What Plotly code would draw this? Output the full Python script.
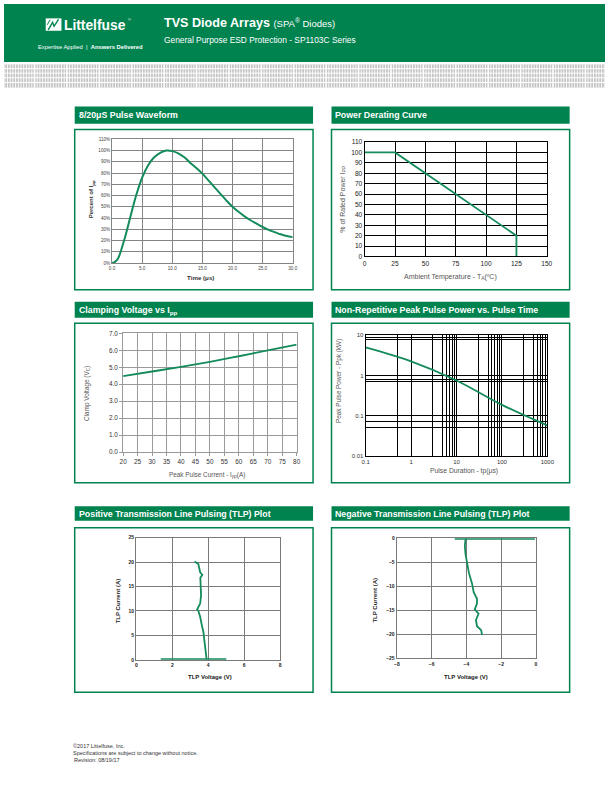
import plotly.graph_objects as go

W, H = 612, 792
GREEN = "#00834f"
LINE = "#148b5b"
SANS = "Liberation Sans, Arial, sans-serif"
NARROW = "Liberation Sans Narrow, Arial Narrow, Liberation Sans, Arial, sans-serif"

# ---------------- data ----------------
pulse_time = [0, 0.5, 1, 2, 3, 4, 5, 6, 7, 8, 9, 10, 11, 12, 13, 14, 15, 16, 17, 18,
              19, 20, 21, 22, 23, 24, 25, 26, 27, 28, 29, 30]
pulse_pct = [0, 1, 4, 20, 40, 60, 76, 87, 94, 98, 100, 99.5, 97.5, 94, 89, 84.5, 79.5,
             73.5, 67.5, 61.5, 55.5, 50, 45.5, 41.5, 38, 35, 32, 29.5, 27.5, 25.5, 24, 23]
pulse_xticks = [0, 5, 10, 15, 20, 25, 30]
pulse_xlabels = ["0.0", "5.0", "10.0", "15.0", "20.0", "25.0", "30.0"]
pulse_yticks = list(range(0, 111, 10))
pulse_ylabels = [f"{v}%" for v in pulse_yticks]

derate_temp = [0, 25, 125, 125]
derate_pct = [100, 100, 20, 0]
derate_xticks = [0, 25, 50, 75, 100, 125, 150]
derate_yticks = list(range(0, 111, 10))

clamp_ipp = [20, 30, 40, 50, 60, 70, 80]
clamp_vc = [4.48, 4.75, 5.02, 5.32, 5.65, 6.0, 6.34]
clamp_xticks = list(range(20, 81, 5))
clamp_yticks = [0, 1, 2, 3, 4, 5, 6, 7]
clamp_ylabels = ["0.0", "1.0", "2.0", "3.0", "4.0", "5.0", "6.0", "7.0"]

ppk_tp = [0.1, 1, 10, 100, 1000]
ppk_kw = [5.0, 2.25, 0.75, 0.185, 0.057]
ppk_xticks = [0.1, 1, 10, 100, 1000]
ppk_xlabels = ["0.1", "1", "10", "100", "1000"]
ppk_xminor = [0.5, 3, 5, 6, 7, 8, 9, 30, 50, 60, 70, 80, 90, 300, 500, 600, 700, 800, 900]
ppk_yticks = [0.01, 0.1, 1, 10]
ppk_ylabels = ["0.01", "0.1", "1", "10"]
ppk_yminor = [0.05, 0.07, 0.7, 0.8, 8, 9]

tlp_pos_v = [3.24, 3.45, 3.55, 3.67, 3.56, 3.58, 3.6, 3.55, 3.42, 3.38, 3.45, 3.55, 3.64,
             3.73, 3.78, 3.82, 3.87, 3.91]
tlp_pos_i = [20.1, 19.6, 17.9, 17.4, 16.8, 15.5, 13.2, 11.5, 10.7, 10.3, 10.0, 8.8, 7.1,
             5.7, 4.1, 2.7, 1.0, 0.1]
tlp_pos_base_v = [1.36, 5.0]
tlp_pos_base_i = [0.12, 0.12]
tlp_pos_xticks = [0, 2, 4, 6, 8]
tlp_pos_yticks = [0, 5, 10, 15, 20, 25]

tlp_neg_v = [-4.05, -4.09, -4.05, -3.95, -3.86, -3.67, -3.58, -3.39, -3.39, -3.52, -3.3,
             -3.45, -3.39, -3.15, -3.1]
tlp_neg_i = [-0.2, -1.6, -3.3, -5.4, -7.1, -9.5, -11.2, -12.6, -13.6, -14.8, -15.7, -17,
             -18.3, -19.1, -20.1]
tlp_neg_base_v = [-4.67, -0.06]
tlp_neg_base_i = [-0.12, -0.12]
tlp_neg_xticks = [-8, -6, -4, -2, 0]
tlp_neg_yticks = [0, -5, -10, -15, -20, -25]


def fx(x):
    return x / W


def fy(y):
    return 1 - y / H


fig = go.Figure()

# panel plot areas (px): left, right, top, bottom
P = {
    1: (110, 294, 136.5, 261.3),
    2: (367.3, 552.7, 139.3, 254.7),
    3: (121.3, 298, 332.3, 452),
    4: (368.3, 553.3, 334.3, 455.7),
    5: (134.7, 281.3, 538.3, 661.7),
    6: (400, 541.7, 539, 660.3),
}


def dom(k):
    l, r, t, b = P[k]
    return [fx(l), fx(r)], [fy(b), fy(t)]


# ---------------- traces ----------------
fig.add_trace(go.Scatter(x=pulse_time, y=pulse_pct, mode="lines", line=dict(color=LINE, width=2, shape="spline"),
                         xaxis="x", yaxis="y", hoverinfo="skip"))
fig.add_trace(go.Scatter(x=derate_temp, y=derate_pct, mode="lines", line=dict(color=LINE, width=1.8),
                         xaxis="x2", yaxis="y2", hoverinfo="skip"))
fig.add_trace(go.Scatter(x=clamp_ipp, y=clamp_vc, mode="lines", line=dict(color=LINE, width=1.8, shape="spline"),
                         xaxis="x3", yaxis="y3", hoverinfo="skip"))
fig.add_trace(go.Scatter(x=ppk_tp, y=ppk_kw, mode="lines", line=dict(color=LINE, width=1.8, shape="spline"),
                         xaxis="x4", yaxis="y4", hoverinfo="skip"))
fig.add_trace(go.Scatter(x=tlp_pos_base_v, y=tlp_pos_base_i, mode="lines", line=dict(color=LINE, width=1.8),
                         xaxis="x5", yaxis="y5", hoverinfo="skip"))
fig.add_trace(go.Scatter(x=tlp_pos_v, y=tlp_pos_i, mode="lines", line=dict(color=LINE, width=1.8),
                         xaxis="x5", yaxis="y5", hoverinfo="skip"))
fig.add_trace(go.Scatter(x=tlp_neg_base_v, y=tlp_neg_base_i, mode="lines", line=dict(color=LINE, width=1.8),
                         xaxis="x6", yaxis="y6", hoverinfo="skip"))
fig.add_trace(go.Scatter(x=tlp_neg_v, y=tlp_neg_i, mode="lines", line=dict(color=LINE, width=1.8),
                         xaxis="x6", yaxis="y6", hoverinfo="skip"))

# ---------------- axes ----------------
def axis(k, letter, **kw):
    xd, yd = dom(k)
    base = dict(showgrid=True, zeroline=False, showline=True, mirror=True, fixedrange=True,
                anchor=("y" if letter == "x" else "x") + ("" if k == 1 else str(k)),
                domain=xd if letter == "x" else yd)
    base.update(kw)
    return base


g1 = dict(gridcolor="#858585", gridwidth=1, linecolor="#858585", linewidth=1, ticks="",
          tickfont=dict(size=4.6, color="#444", family=SANS))
g2 = dict(gridcolor="#000", gridwidth=1, linecolor="#000", linewidth=1.3, ticks="",
          tickfont=dict(size=6.6, color="#222", family=SANS))
g3 = dict(gridcolor="#9a9a9a", gridwidth=1, linecolor="#9a9a9a", linewidth=1, ticks="outside",
          ticklen=3, tickcolor="#9a9a9a", tickfont=dict(size=6.4, color="#333", family=SANS))
g4 = dict(gridcolor="#000", gridwidth=1, linecolor="#000", linewidth=1, ticks="",
          tickfont=dict(size=6.0, color="#333", family=SANS))
g5 = dict(gridcolor="#7a7a7a", gridwidth=1.3, linecolor="#7a7a7a", linewidth=1.3, ticks="",
          tickfont=dict(size=5.0, color="#222", family=SANS, weight="bold"))

lay = {}
lay["xaxis"] = axis(1, "x", range=[0, 30], tickmode="array", tickvals=pulse_xticks, ticktext=pulse_xlabels, **g1)
lay["yaxis"] = axis(1, "y", range=[0, 110], tickmode="array", tickvals=pulse_yticks, ticktext=pulse_ylabels, **g1)
lay["xaxis2"] = axis(2, "x", range=[0, 150], tickmode="array", tickvals=derate_xticks, **g2)
lay["yaxis2"] = axis(2, "y", range=[0, 110], tickmode="array", tickvals=derate_yticks, **g2)
lay["xaxis3"] = axis(3, "x", range=[20, 80], tickmode="array", tickvals=clamp_xticks, **g3)
lay["yaxis3"] = axis(3, "y", range=[0, 7], tickmode="array", tickvals=clamp_yticks, ticktext=clamp_ylabels, **g3)
lay["xaxis4"] = axis(4, "x", type="log", range=[-1, 3], tickmode="array", tickvals=ppk_xticks, ticktext=ppk_xlabels,
                     minor=dict(tickmode="array", tickvals=ppk_xminor, showgrid=True, gridcolor="#000", gridwidth=1, ticks=""), **g4)
lay["yaxis4"] = axis(4, "y", type="log", range=[-2, 1], tickmode="array", tickvals=ppk_yticks, ticktext=ppk_ylabels,
                     minor=dict(tickmode="array", tickvals=ppk_yminor, showgrid=True, gridcolor="#000", gridwidth=1, ticks=""), **g4)
lay["xaxis5"] = axis(5, "x", range=[0, 8], tickmode="array", tickvals=tlp_pos_xticks, **g5)
lay["yaxis5"] = axis(5, "y", range=[0, 25], tickmode="array", tickvals=tlp_pos_yticks, **g5)
lay["xaxis6"] = axis(6, "x", range=[-8, 0], tickmode="array", tickvals=tlp_neg_xticks, **g5)
lay["yaxis6"] = axis(6, "y", range=[-25, 0], tickmode="array", tickvals=tlp_neg_yticks, **g5)

# ---------------- shapes ----------------
shapes = []


def rect(x0, y0, x1, y1, fill=None, line=None, lw=0, layer="below"):
    shapes.append(dict(type="rect", xref="paper", yref="paper", x0=fx(x0), x1=fx(x1), y0=fy(y1), y1=fy(y0),
                       fillcolor=fill if fill else "rgba(0,0,0,0)",
                       line=dict(color=line if line else "rgba(0,0,0,0)", width=lw), layer=layer))


def hline(x0, x1, y, color, w):
    shapes.append(dict(type="line", xref="paper", yref="paper", x0=fx(x0), x1=fx(x1), y0=fy(y), y1=fy(y),
                       line=dict(color=color, width=w), layer="below"))


def vline(x, y0, y1, color, w):
    shapes.append(dict(type="line", xref="paper", yref="paper", x0=fx(x), x1=fx(x), y0=fy(y0), y1=fy(y1),
                       line=dict(color=color, width=w), layer="below"))


# header
rect(0, 0, W, 58.5, fill=GREEN)
# textured band
rect(0, 61, W, 84.3, fill="#c4c4c4")
for yy in [65.2, 69.8, 74.4, 79.2]:
    hline(0, W, yy, "white", 1)
xx = 0.8
i = 0
while xx < W:
    vline(xx, 61, 84.3, "white", 1.6 if i % 12 == 11 else 0.9)
    xx += 2.75
    i += 1

# logo icon
rect(42.5, 14.5, 58.5, 27, fill="white")
shapes.append(dict(type="path", xref="paper", yref="paper",
                   path=f"M {fx(45)},{fy(26)} L {fx(49.5)},{fy(18.5)} L {fx(51)},{fy(22.5)} L {fx(55.5)},{fy(15.5)}",
                   line=dict(color=GREEN, width=1.4), layer="above"))
shapes.append(dict(type="path", xref="paper", yref="paper",
                   path=f"M {fx(44)},{fy(21)} L {fx(47)},{fy(16)}",
                   line=dict(color=GREEN, width=1.0), layer="above"))

# panels: title bars and boxes
panels = [
    (72, 314.7, 103.3, 120.7, 126.7, 288.3, "8/20μS Pulse Waveform"),
    (333.5, 576, 103.3, 120.7, 126.7, 288.3, "Power Derating Curve"),
    (72, 314.7, 300.5, 316.5, 322, 483, "Clamping Voltage vs I<sub>pp</sub>"),
    (333.5, 576, 300.5, 316.5, 322, 483, "Non-Repetitive Peak Pulse Power vs. Pulse Time"),
    (72, 314.7, 506.7, 521.3, 528.3, 694.3, "Positive Transmission Line Pulsing (TLP) Plot"),
    (333.5, 576, 506.7, 521.3, 528.3, 694.3, "Negative Transmission Line Pulsing (TLP) Plot"),
]
annotations = []
DX = -2.5  # compensate annotation padding for left-anchored texts


def txt(x, y, s, size, color="#333", family=SANS, anchor="left", angle=0, weight="normal"):
    if anchor == "left":
        x = x + DX
    annotations.append(dict(x=fx(x), y=fy(y), xref="paper", yref="paper", text=s, showarrow=False,
                            xanchor=anchor, yanchor="middle", textangle=angle, borderpad=0,
                            font=dict(size=size, color=color, family=family, weight=weight)))


for (l, r, bt, bb, t, b, title) in panels:
    rect(l, bt, r, bb, fill=GREEN)
    rect(l, t, r, b, line=GREEN, lw=1.5)
    txt(l + 5.5, (bt + bb) / 2 + 0.3, f"<b>{title}</b>", 8.8, color="white", family=NARROW)

# header texts
txt(63, 22, "<b>Littelfuse</b>", 13.8, color="white", family=NARROW)
txt(127.5, 16, "®", 4, color="white", family=SANS)
txt(36, 43.3, "Expertise Applied  |  <b>Answers Delivered</b>", 5.8, color="white", family=NARROW)
txt(164, 19.5, "<b>TVS Diode Arrays</b> <span style='font-size:9.5px'>(SPA<sup>®</sup> Diodes)</span>", 12.6,
    color="white", family=SANS)
txt(164, 36.8, "General Purpose ESD Protection - SP1103C Series", 8.4, color="white", family=NARROW)

# axis titles
txt(90, 196.7, "<b>Percent of I<sub>pp</sub></b>", 6.0, color="#333", anchor="center", angle=-90)
txt(200.5, 275.5, "<b>Time (μs)</b>", 6.2, color="#333", anchor="center")
txt(345, 196.7, "% of Rated Power I<sub>PP</sub>", 7.0, color="#555", anchor="center", angle=-90)
txt(455, 275.5, "Ambient Temperature - T<sub>A</sub>(ºC)", 7.0, color="#555", anchor="center")
txt(84, 393, "Clamp Voltage (V<sub>C</sub>)", 6.4, color="#555", anchor="center", angle=-90)
txt(207, 475, "Peak Pulse Current - I<sub>pp</sub>(A)", 6.4, color="#555", anchor="center")
txt(340.5, 380, "Peak Pulse Power - Ppk (kW)", 6.4, color="#555", anchor="center", angle=-90)
txt(468.5, 471.5, "Pulse Duration - tp(μs)", 6.8, color="#555", anchor="center")
txt(116, 601.7, "<b>TLP Current (A)</b>", 6.0, color="#222", anchor="center", angle=-90)
txt(209.5, 679.3, "<b>TLP Voltage (V)</b>", 6.0, color="#222", anchor="center")
txt(378, 601.7, "<b>TLP Current (A)</b>", 6.0, color="#222", anchor="center", angle=-90)
txt(470, 679.3, "<b>TLP Voltage (V)</b>", 6.0, color="#222", anchor="center")

# footer
txt(71.5, 748.7, "©2017 Littelfuse, Inc.", 5.5, color="#333", family=NARROW)
txt(71.5, 755.8, "Specifications are subject to change without notice.", 5.5, color="#333", family=NARROW)
txt(73, 762.8, "Revision: 08/19/17", 5.5, color="#333", family=NARROW)

fig.update_layout(
    width=W, height=H, margin=dict(l=0, r=0, t=0, b=0),
    paper_bgcolor="white", plot_bgcolor="white", showlegend=False,
    shapes=shapes, annotations=annotations, **lay,
)
fig.write_html("out.html")
